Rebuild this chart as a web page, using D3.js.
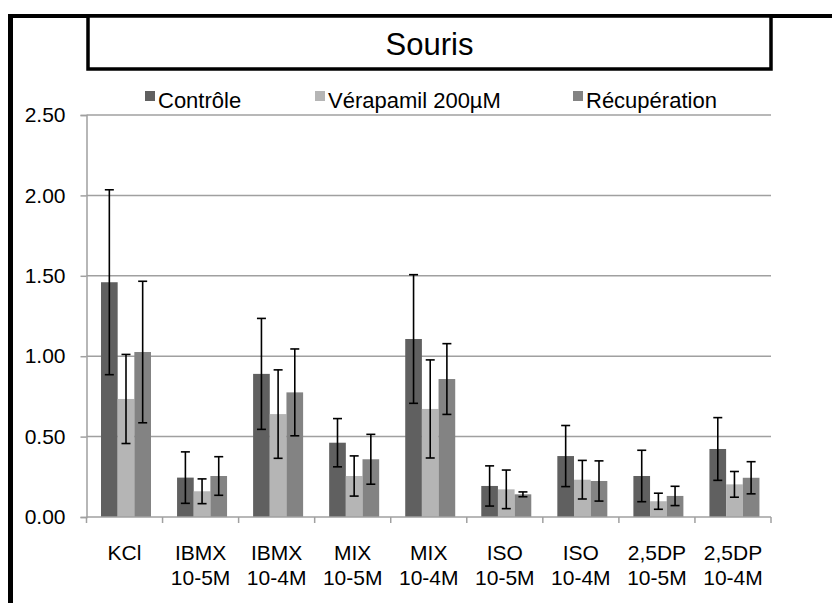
<!DOCTYPE html>
<html>
<head>
<meta charset="utf-8">
<script src="https://cdn.jsdelivr.net/npm/d3@7"></script>
<style>
  html, body { margin: 0; padding: 0; background: #fff; }
  svg { display: block; font-family: "Liberation Sans", Arial, sans-serif; }
</style>
</head>
<body>
<svg id="chart" width="832" height="603"></svg>
<script>
// ---- data ----
const categories = ["KCl|", "IBMX|10-5M", "IBMX|10-4M", "MIX|10-5M", "MIX|10-4M", "ISO|10-5M", "ISO|10-4M", "2,5DP|10-5M", "2,5DP|10-4M"];
const categoryLabels = [["KCl"], ["IBMX", "10-5M"], ["IBMX", "10-4M"], ["MIX", "10-5M"], ["MIX", "10-4M"], ["ISO", "10-5M"], ["ISO", "10-4M"], ["2,5DP", "10-5M"], ["2,5DP", "10-4M"]];
const seriesNames = ["Contrôle", "Vérapamil 200µM", "Récupération"];
const controle      = [1.46, 0.245, 0.89, 0.462, 1.107, 0.193, 0.379, 0.255, 0.423];
const verapamil     = [0.734, 0.16, 0.64, 0.255, 0.672, 0.172, 0.232, 0.098, 0.203];
const recuperation  = [1.026, 0.255, 0.775, 0.359, 0.858, 0.141, 0.224, 0.131, 0.244];
const controleErr   = [0.575, 0.16, 0.345, 0.15, 0.40, 0.125, 0.19, 0.16, 0.195];
const verapamilErr  = [0.277, 0.077, 0.275, 0.125, 0.305, 0.12, 0.12, 0.05, 0.08];
const recuperationErr = [0.44, 0.12, 0.27, 0.155, 0.22, 0.015, 0.125, 0.06, 0.10];
const yTicks = [0, 0.5, 1.0, 1.5, 2.0, 2.5];
const title = "Souris";

const seriesValues = [controle, verapamil, recuperation];
const seriesErrors = [controleErr, verapamilErr, recuperationErr];
const colors = ["#606060", "#b5b5b5", "#838383"];

const svg = d3.select("#chart");

// ---- frame ----
svg.append("line").attr("x1", 8).attr("x2", 832).attr("y1", 16).attr("y2", 16)
  .attr("stroke", "#000").attr("stroke-width", 4);
svg.append("line").attr("x1", 10.5).attr("x2", 10.5).attr("y1", 14).attr("y2", 603)
  .attr("stroke", "#000").attr("stroke-width", 5);
svg.append("rect").attr("x", 88).attr("y", 16).attr("width", 683).attr("height", 53)
  .attr("fill", "#fff").attr("stroke", "#000").attr("stroke-width", 3.5);
svg.append("text").attr("x", 429.5).attr("y", 55).attr("text-anchor", "middle")
  .attr("font-size", 31).attr("fill", "#000").text(title);

// ---- scales ----
const x = d3.scaleBand().domain(categories).range([86.5, 771]).padding(0);
const inner = d3.scaleBand().domain([0, 1, 2]).range([14.5, 64.5]).padding(0);
const y = d3.scaleLinear().domain([0, 2.5]).range([517, 115]);

// ---- grid + y axis ----
const yAxis = d3.axisLeft(y).tickValues(yTicks).tickFormat(d3.format(".2f")).tickSize(6).tickPadding(15);
const gy = svg.append("g").attr("transform", "translate(86.5,0)").call(yAxis);
gy.select(".domain").attr("stroke", "#a0a0a0").attr("stroke-width", 1.5);
gy.selectAll(".tick line").attr("stroke", "#a0a0a0").attr("stroke-width", 1.5);
gy.selectAll(".tick text").attr("font-size", 21).attr("fill", "#000")
  .attr("font-family", "'Liberation Sans', Arial, sans-serif");

svg.append("g").selectAll("line").data(yTicks.filter(d => d > 0)).join("line")
  .attr("x1", 86.5).attr("x2", 771)
  .attr("y1", d => y(d)).attr("y2", d => y(d))
  .attr("stroke", "#a0a0a0").attr("stroke-width", 1.5);

// ---- bars ----
const groups = svg.append("g").selectAll("g").data(categories).join("g")
  .attr("transform", d => `translate(${x(d)},0)`);

groups.selectAll("rect").data((d, i) => seriesValues.map((s, k) => ({ k, v: s[i] }))).join("rect")
  .attr("x", d => inner(d.k))
  .attr("width", inner.bandwidth())
  .attr("y", d => y(d.v))
  .attr("height", d => y(0) - y(d.v))
  .attr("fill", d => colors[d.k]);

// ---- x axis ----
const xAxisG = svg.append("g");
xAxisG.append("line").attr("x1", 86.5).attr("x2", 771).attr("y1", y(0)).attr("y2", y(0))
  .attr("stroke", "#a0a0a0").attr("stroke-width", 1.5);
const bounds = categories.map(c => x(c)).concat([x(categories[categories.length - 1]) + x.bandwidth()]);
xAxisG.selectAll("line.tk").data(bounds).join("line").attr("class", "tk")
  .attr("x1", d => d).attr("x2", d => d).attr("y1", y(0)).attr("y2", y(0) + 6)
  .attr("stroke", "#a0a0a0").attr("stroke-width", 1.5);

xAxisG.selectAll("text").data(categories).join("text")
  .attr("x", d => x(d) + x.bandwidth() / 2)
  .attr("y", 560)
  .attr("text-anchor", "middle")
  .attr("font-size", 21)
  .attr("fill", "#000")
  .each(function (d, i) {
    const t = d3.select(this);
    categoryLabels[i].forEach((line, j) => {
      t.append("tspan").attr("x", x(d) + x.bandwidth() / 2).attr("dy", j === 0 ? 0 : 25).text(line);
    });
  });

// ---- error bars ----
const errData = [];
categories.forEach((c, i) => {
  seriesValues.forEach((s, k) => {
    errData.push({ c, k, v: s[i], e: seriesErrors[k][i] });
  });
});
const eb = svg.append("g").selectAll("g").data(errData).join("g");
const cx = d => x(d.c) + inner(d.k) + inner.bandwidth() / 2;
eb.append("line").attr("x1", cx).attr("x2", cx)
  .attr("y1", d => y(d.v + d.e)).attr("y2", d => y(d.v - d.e))
  .attr("stroke", "#000").attr("stroke-width", 1.6);
eb.append("line").attr("x1", d => cx(d) - 4.5).attr("x2", d => cx(d) + 4.5)
  .attr("y1", d => y(d.v + d.e)).attr("y2", d => y(d.v + d.e))
  .attr("stroke", "#000").attr("stroke-width", 1.6);
eb.append("line").attr("x1", d => cx(d) - 4.5).attr("x2", d => cx(d) + 4.5)
  .attr("y1", d => y(d.v - d.e)).attr("y2", d => y(d.v - d.e))
  .attr("stroke", "#000").attr("stroke-width", 1.6);

// ---- legend ----
const legendX = [145, 315, 573];
const lg = svg.append("g").selectAll("g").data(seriesNames).join("g")
  .attr("transform", (d, i) => `translate(${legendX[i]},0)`);
lg.append("rect").attr("x", 0).attr("y", 91).attr("width", 10).attr("height", 10)
  .attr("fill", (d, i) => colors[i]);
lg.append("text").attr("x", 13).attr("y", 108).attr("font-size", 22).attr("fill", "#000").text(d => d);
</script>
</body>
</html>
